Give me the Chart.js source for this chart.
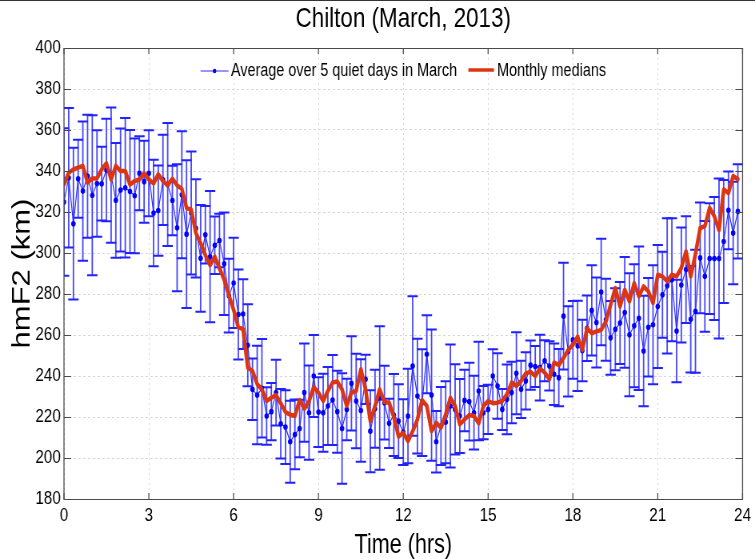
<!DOCTYPE html>
<html>
<head>
<meta charset="utf-8">
<script src="https://cdn.jsdelivr.net/npm/chart.js@4.4.0/dist/chart.umd.min.js"></script>
<style>
    html, body { margin: 0; padding: 0; background: #fff; overflow: hidden; }
</style>
</head>
<body>
<!-- canvas desenhado mais largo e comprimido na horizontal (fonte estreita do original) -->
<canvas id="grafico_hmf2" width="944" height="559" style="width:755px;height:559px;display:block"></canvas>
<script>
// Média dos 5 dias calmos de março (hmF2 em km), a cada 10 minutos
const mediaQuieta = [
    324.9, 336.7, 314.3, 336.2, 330.2, 337.5, 328.2, 333.9, 333.8, 340.5, 338.0, 325.7,
    330.7, 331.8, 330.0, 327.9, 338.9, 334.8, 338.9, 319.5, 320.7, 335.7, 333.4, 325.6,
    312.3, 328.4, 309.2, 319.5, 312.0, 297.4, 308.9, 298.2, 303.8, 306.1, 294.7, 279.2,
    285.4, 270.0, 270.2, 255.0, 233.5, 230.7, 234.0, 220.5, 222.6, 231.9, 216.7, 215.1,
    207.9, 211.5, 214.4, 231.9, 222.1, 240.0, 222.4, 222.1, 225.4, 228.3, 222.6, 214.4,
    223.7, 236.4, 227.8, 223.2, 238.4, 213.1, 224.0, 229.3, 227.0, 216.9, 221.0, 218.0,
    212.6, 220.5, 244.9, 230.2, 227.0, 250.6, 230.7, 207.9, 215.6, 217.5, 225.4, 223.7,
    220.5, 228.1, 227.5, 222.1, 232.7, 222.1, 223.7, 240.0, 235.1, 223.7, 228.6, 231.9,
    241.3, 233.5, 237.6, 245.3, 244.6, 244.1, 247.4, 244.9, 240.8, 239.2, 269.2, 252.0,
    257.6, 254.7, 252.4, 263.3, 272.0, 266.1, 281.0, 267.4, 258.6, 262.8, 265.8, 271.0,
    260.1, 264.5, 268.2, 252.2, 263.8, 265.0, 273.9, 279.6, 284.0, 287.0, 261.9, 284.4,
    291.9, 267.7, 271.6, 297.6, 288.6, 297.3, 297.3, 297.3, 305.6, 320.8, 309.7, 320.3
];

// Desvio (meia barra de erro) de cada ponto
const erroQuieta = [
    36, 34, 37, 19, 34, 30, 39, 26, 18, 25, 33, 28,
    30, 34, 30, 28, 18, 20, 21, 26, 22, 22, 30, 17,
    31, 31, 36, 30, 24, 26, 14, 32, 14, 13, 25, 18,
    22, 22, 17, 20, 15, 24, 24, 14, 14, 16, 17, 18,
    20, 17, 14, 24, 23, 20, 17, 19, 19, 22, 20, 27,
    15, 23, 23, 25, 12, 20, 19, 35, 18, 12, 20, 18,
    16, 23, 34, 28, 26, 19, 32, 15, 19, 20, 30, 22,
    18, 15, 19, 18, 24, 13, 12, 13, 16, 10, 17, 15,
    20, 14, 14, 12, 10, 16, 10, 12, 15, 14, 26, 22,
    19, 22, 15, 16, 22, 22, 26, 20, 18, 20, 20, 27,
    30, 30, 35, 27, 24, 29, 30, 21, 33, 30, 25, 28,
    26, 26, 30, 27, 27, 27, 30, 39, 30, 19, 25, 23
];

// Medianas mensais (km)
const medianaMensal = [
    333.4, 339.2, 340.8, 341.6, 342.5, 334.3, 336.4, 336.4, 340.8, 343.8, 335.9, 342.5,
    340.0, 340.0, 333.4, 335.1, 335.9, 338.9, 335.9, 333.9, 338.4, 335.1, 333.0, 336.2,
    333.0, 331.3, 322.0, 321.1, 309.7, 304.8, 299.0, 294.1, 298.2, 292.5, 287.0, 279.3,
    272.3, 263.7, 262.9, 244.1, 242.5, 236.0, 233.5, 227.8, 229.4, 230.7, 226.7, 222.4,
    221.1, 220.5, 228.3, 224.0, 227.8, 234.6, 231.9, 227.8, 232.7, 236.8, 237.3, 233.5,
    225.4, 231.9, 232.7, 243.3, 233.5, 218.0, 225.4, 233.5, 227.3, 227.0, 220.0, 210.5,
    212.3, 208.2, 213.1, 218.8, 228.3, 225.4, 213.1, 217.2, 214.7, 221.3, 229.4, 225.4,
    216.4, 218.8, 221.0, 220.5, 216.9, 225.4, 227.8, 226.7, 227.0, 227.8, 231.1, 236.8,
    235.1, 237.6, 241.3, 242.0, 240.0, 243.6, 241.7, 238.4, 246.6, 245.3, 248.8, 252.7,
    255.2, 259.2, 252.7, 263.3, 260.9, 261.7, 262.5, 266.6, 274.7, 282.9, 273.9, 282.1,
    276.4, 285.3, 278.8, 283.7, 281.3, 275.6, 289.4, 288.6, 286.2, 289.4, 288.6, 292.7,
    300.8, 288.6, 299.5, 312.2, 313.1, 322.0, 318.0, 311.1, 331.0, 329.2, 337.6, 336.0
];

const ticksX = [0, 3, 6, 9, 12, 15, 18, 21, 24];
const ticksY = [180, 200, 220, 240, 260, 280, 300, 320, 340, 360, 380, 400];

// horário de cada amostra (10 em 10 minutos)
const horas = mediaQuieta.map((_, i) => i / 6);

const FONTE = "'Liberation Sans', Arial, Helvetica, sans-serif";
Chart.defaults.font.family = FONTE;
Chart.defaults.color = '#000';

// Barras de erro desenhadas antes das linhas
const barrasErro = {
    id: 'barrasErro',
    beforeDatasetsDraw(chart) {
        const { ctx, chartArea, scales: { x, y } } = chart;
        ctx.save();
        ctx.beginPath();
        ctx.rect(chartArea.left, chartArea.top, chartArea.width, chartArea.height);
        ctx.clip();
        for (let i = 0; i < mediaQuieta.length; i++) {
            const px = x.getPixelForValue(horas[i]);
            const pCima = y.getPixelForValue(mediaQuieta[i] + erroQuieta[i]);
            const pBaixo = y.getPixelForValue(mediaQuieta[i] - erroQuieta[i]);

            ctx.strokeStyle = 'rgba(40, 40, 255, 0.85)';
            ctx.lineWidth = 1.8;
            ctx.beginPath();
            ctx.moveTo(px, pCima);
            ctx.lineTo(px, pBaixo);
            ctx.stroke();

            ctx.strokeStyle = '#2222ff';
            ctx.lineWidth = 2;
            ctx.beginPath();
            ctx.moveTo(px - 6.5, pCima);
            ctx.lineTo(px + 6.5, pCima);
            ctx.moveTo(px - 6.5, pBaixo);
            ctx.lineTo(px + 6.5, pBaixo);
            ctx.stroke();
        }
        ctx.restore();
    }
};

// Moldura, marcas para dentro e legenda no topo da área do gráfico
const molduraLegenda = {
    id: 'molduraLegenda',
    afterDraw(chart) {
        const { ctx, chartArea: a, scales: { x, y } } = chart;
        ctx.save();
        ctx.strokeStyle = '#4a4a4a';

        // marcas
        ctx.lineWidth = 1.25;
        ticksX.forEach(v => {
            const px = x.getPixelForValue(v);
            ctx.beginPath();
            ctx.moveTo(px, a.bottom); ctx.lineTo(px, a.bottom - 6);
            ctx.moveTo(px, a.top); ctx.lineTo(px, a.top + 6);
            ctx.stroke();
        });
        ctx.lineWidth = 1;
        ticksY.forEach(v => {
            const py = Math.round(y.getPixelForValue(v)) + 0.5;
            ctx.beginPath();
            ctx.moveTo(a.left, py); ctx.lineTo(a.left + 9, py);
            ctx.moveTo(a.right, py); ctx.lineTo(a.right - 9, py);
            ctx.stroke();
        });

        // caixa
        ctx.lineWidth = 1;
        ctx.beginPath();
        ctx.moveTo(a.left, a.top + 0.5); ctx.lineTo(a.right, a.top + 0.5);
        ctx.moveTo(a.left, a.bottom + 0.5); ctx.lineTo(a.right, a.bottom + 0.5);
        ctx.stroke();
        ctx.lineWidth = 1.3;
        ctx.beginPath();
        ctx.moveTo(a.left, a.top); ctx.lineTo(a.left, a.bottom + 1);
        ctx.moveTo(a.right, a.top); ctx.lineTo(a.right, a.bottom + 1);
        ctx.stroke();

        // linha no topo da figura
        ctx.strokeStyle = '#333';
        ctx.lineWidth = 1;
        ctx.beginPath();
        ctx.moveTo(0, 0.5); ctx.lineTo(chart.width, 0.5);
        ctx.stroke();

        // legenda
        const d0 = chart.data.datasets[0];
        const d1 = chart.data.datasets[1];
        ctx.font = `18px ${FONTE}`;
        ctx.textBaseline = 'middle';
        ctx.fillStyle = '#000';
        const w0 = ctx.measureText(d0.label).width;
        const w1 = ctx.measureText(d1.label).width;
        const total = 35 + 3 + w0 + 14 + 32 + 4 + w1;
        let lx = (a.left + a.right) / 2 - total / 2;
        const ly = 71;

        ctx.strokeStyle = d0.borderColor;
        ctx.lineWidth = 1.2;
        ctx.beginPath(); ctx.moveTo(lx, ly); ctx.lineTo(lx + 35, ly); ctx.stroke();
        ctx.fillStyle = d0.pointBackgroundColor;
        ctx.beginPath(); ctx.arc(lx + 17.5, ly, 2.2, 0, Math.PI * 2); ctx.fill();
        lx += 38;
        ctx.fillStyle = '#000';
        ctx.fillText(d0.label, lx, ly);
        lx += w0 + 14;

        ctx.strokeStyle = d1.borderColor;
        ctx.lineWidth = 3.5;
        ctx.beginPath(); ctx.moveTo(lx, ly - 1); ctx.lineTo(lx + 32, ly - 1); ctx.stroke();
        lx += 36;
        ctx.fillText(d1.label, lx, ly);

        ctx.restore();
    }
};

const dadosGrafico = {
    datasets: [{
        label: 'Average over 5 quiet days in March',
        data: horas.map((h, i) => ({ x: h, y: mediaQuieta[i] })),
        borderColor: '#2e2eff',
        borderWidth: 1.2,
        pointRadius: 2.8,
        pointBackgroundColor: '#0000ff',
        pointBorderWidth: 0,
        tension: 0,
        order: 1
    },
    {
        label: 'Monthly medians',
        data: horas.map((h, i) => ({ x: h, y: medianaMensal[i] })),
        borderColor: '#dc3512',
        borderWidth: 4.5,
        borderJoinStyle: 'round',
        borderCapStyle: 'round',
        pointRadius: 0,
        tension: 0,
        order: 0
    }]
};

// Criando estrutura para plotar gráfico - config
const configGrafico = {
    type: 'line',
    data: dadosGrafico,
    options: {
        responsive: false,
        animation: false,
        devicePixelRatio: 1,
        layout: { padding: { left: 0, right: 11.5, top: 0, bottom: 0 } },
        plugins: {
            legend: { display: false },
            tooltip: { enabled: false },
            title: {
                display: true,
                text: 'Chilton (March, 2013)',
                fullSize: false,
                color: '#000',
                font: { size: 28, weight: 'normal', lineHeight: 1 },
                padding: { top: 5, bottom: 15 }
            }
        },
        scales: {
            x: {
                type: 'linear',
                min: 0,
                max: 24,
                afterBuildTicks: s => { s.ticks = ticksX.map(v => ({ value: v })); },
                afterFit: s => { s.height = 60; },
                ticks: { padding: 5, maxRotation: 0, autoSkip: false, font: { size: 19 }, color: '#000' },
                grid: { color: '#d6d6d6', lineWidth: 1, drawTicks: false },
                border: { display: false, dash: [2, 3] },
                title: {
                    display: true,
                    text: 'Time (hrs)',
                    color: '#000',
                    font: { size: 27, lineHeight: 1 },
                    padding: { top: 0, bottom: 0 }
                }
            },
            y: {
                type: 'linear',
                min: 180,
                max: 400,
                afterBuildTicks: s => { s.ticks = ticksY.map(v => ({ value: v })); },
                afterFit: s => { s.width = 80; },
                ticks: { padding: 4, font: { size: 19 }, color: '#000' },
                grid: { color: '#d6d6d6', lineWidth: 1, drawTicks: false },
                border: { display: false, dash: [3, 3] },
                title: {
                    display: true,
                    text: 'hmF2 (km)',
                    color: '#000',
                    font: { size: 31, lineHeight: 1 },
                    padding: { top: 13, bottom: 0 }
                }
            }
        }
    },
    plugins: [barrasErro, molduraLegenda]
};

// Adicionando gráfico criado na tela
let graficoHmf2 = new Chart(
    document.getElementById('grafico_hmf2'),
    configGrafico
);
</script>
</body>
</html>
